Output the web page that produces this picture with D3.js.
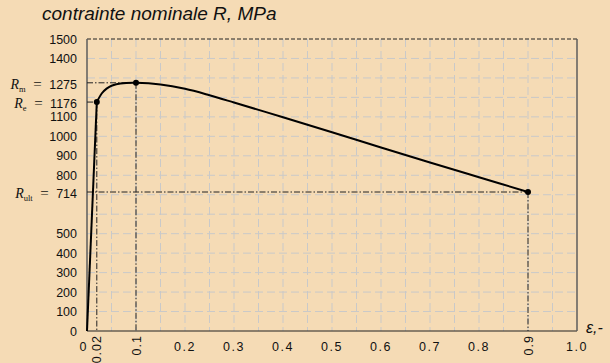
<!DOCTYPE html>
<html><head><meta charset="utf-8">
<script src="https://cdn.jsdelivr.net/npm/d3@7"></script>
<style>
html,body{margin:0;padding:0;background:#f5dbb5;}
svg{display:block;}
</style></head>
<body>
<svg id="chart" width="610" height="363"></svg>
<script>
// ---- data ----
const elasticStrain = [0, 0.02];
const elasticStress = [0, 1176];
const plasticStrain = [0.02, 0.03, 0.04, 0.05, 0.06, 0.08, 0.1, 0.15, 0.2, 0.25, 0.3, 0.4, 0.5, 0.6, 0.7, 0.8, 0.9];
const plasticStress = [1176, 1220, 1245, 1260, 1268, 1274, 1275, 1266, 1244, 1211, 1174, 1098, 1021, 943, 866, 790, 714];
const keyNames = ["e", "m", "ult"];
const keyStrain = [0.02, 0.1, 0.9];
const keyStress = [1176, 1275, 714];
const yTicks = [0, 100, 200, 300, 400, 500, 800, 900, 1000, 1100, 1400, 1500];
const xTicksFlat = [0.2, 0.3, 0.4, 0.5, 0.6, 0.7, 0.8, 1.0];
const xTicksRot = [0.02, 0.1, 0.9];
const title = "contrainte nominale R, MPa";
const xTitle = "ε,-";

// ---- layout ----
const svg = d3.select("#chart");
const W = 610, H = 363;
const L = 87, R = 577, T = 39, B = 331;
svg.append("rect").attr("width", W).attr("height", H).attr("fill", "#f5dbb5");

const x = d3.scaleLinear().domain([0, 1]).range([L, R]);
const y = d3.scaleLinear().domain([0, 1500]).range([B, T]);

// grid
const g = svg.append("g");
g.selectAll("line.vg").data(d3.range(1, 20).map(i => i * 0.05)).join("line").attr("class", "vg")
  .attr("x1", d => x(d)).attr("x2", d => x(d)).attr("y1", T).attr("y2", B)
  .attr("stroke", "#c9c9c9").attr("stroke-width", 1).attr("stroke-dasharray", "8,4");
g.selectAll("line.hg").data(d3.range(1, 15).map(i => i * 100)).join("line").attr("class", "hg")
  .attr("y1", d => y(d)).attr("y2", d => y(d)).attr("x1", L).attr("x2", R)
  .attr("stroke", "#c9c9c9").attr("stroke-width", 1).attr("stroke-dasharray", "8,4");

// frame
svg.append("line").attr("x1", L).attr("x2", R).attr("y1", T).attr("y2", T)
  .attr("stroke", "#222").attr("stroke-width", 1).attr("stroke-dasharray", "4,2");
svg.append("line").attr("x1", L).attr("x2", R).attr("y1", B).attr("y2", B)
  .attr("stroke", "#222").attr("stroke-width", 1.2);
svg.append("line").attr("x1", L).attr("x2", L).attr("y1", T).attr("y2", B)
  .attr("stroke", "#5c5c5c").attr("stroke-width", 1.5);
svg.append("line").attr("x1", R).attr("x2", R).attr("y1", T).attr("y2", B)
  .attr("stroke", "#5c5c5c").attr("stroke-width", 1.5);

// reference dash-dot lines
const keys = keyStrain.map((s, i) => ({s, v: keyStress[i], n: keyNames[i]}));
const ref = svg.append("g").attr("stroke", "#222").attr("stroke-width", 1).attr("stroke-dasharray", "6,2,1.5,2").attr("fill", "none");
ref.selectAll("line.h").data(keys).join("line").attr("class", "h")
  .attr("x1", L).attr("x2", d => x(d.s)).attr("y1", d => y(d.v)).attr("y2", d => y(d.v));
ref.selectAll("line.v").data(keys).join("line").attr("class", "v")
  .attr("x1", d => x(d.s)).attr("x2", d => x(d.s)).attr("y1", d => y(d.v)).attr("y2", B);

// curve
const elastic = elasticStrain.map((s, i) => [s, elasticStress[i]]);
const plastic = plasticStrain.map((s, i) => [s, plasticStress[i]]);
svg.append("path").attr("d", d3.line().x(d => x(d[0])).y(d => y(d[1]))(elastic))
  .attr("fill", "none").attr("stroke", "#000").attr("stroke-width", 2);
svg.append("path").attr("d", d3.line().curve(d3.curveCatmullRom.alpha(0.5)).x(d => x(d[0])).y(d => y(d[1]))(plastic))
  .attr("fill", "none").attr("stroke", "#000").attr("stroke-width", 2);
svg.selectAll("circle.pt").data(keys).join("circle").attr("class", "pt")
  .attr("cx", d => x(d.s)).attr("cy", d => y(d.v)).attr("r", 3).attr("fill", "#000");

// y tick labels
const fnt = "'Liberation Sans', Arial, Helvetica, sans-serif";
const serif = "'Liberation Serif', 'Times New Roman', serif";
svg.selectAll("text.yl").data(yTicks).join("text").attr("class", "yl")
  .attr("x", 77).attr("y", d => y(d)).attr("dy", "0.36em")
  .attr("text-anchor", "end").attr("font-family", fnt).attr("font-size", 12.5).attr("fill", "#111")
  .text(d => d);
keys.forEach(k => {
  const t = svg.append("text").attr("x", 77).attr("y", y(k.v)).attr("dy", "0.36em")
    .attr("text-anchor", "end").attr("fill", "#111");
  t.append("tspan").attr("font-family", serif)
    .attr("font-style", "italic").attr("font-size", 14).text("R");
  t.append("tspan").attr("font-family", serif)
    .attr("font-size", 8.5).attr("dy", 3).text(k.n);
  t.append("tspan").attr("font-family", serif)
    .attr("font-size", 15).attr("dy", -3).attr("xml:space", "preserve").text("  =  ");
  t.append("tspan").attr("font-family", fnt).attr("font-size", 12.5).text(k.v);
});

// x tick labels
svg.append("text").attr("x", 83).attr("y", 351).attr("text-anchor", "middle")
  .attr("font-family", fnt).attr("font-size", 12.5).attr("fill", "#111").text("0");
svg.selectAll("text.xl").data(xTicksFlat).join("text").attr("class", "xl")
  .attr("x", d => x(d)).attr("y", 351).attr("text-anchor", "middle")
  .attr("font-family", fnt).attr("font-size", 12.5).attr("letter-spacing", 1.5).attr("fill", "#111")
  .text(d => d.toFixed(1));
svg.selectAll("text.xr").data(xTicksRot).join("text").attr("class", "xr")
  .attr("transform", d => `translate(${x(d) + 4.5},335) rotate(-90)`)
  .attr("text-anchor", "end")
  .attr("font-family", fnt).attr("font-size", 12.5).attr("letter-spacing", 1).attr("fill", "#111")
  .text(d => d);

// titles
svg.append("text").attr("x", 42).attr("y", 20).attr("font-family", fnt).attr("font-style", "italic")
  .attr("font-size", 19).attr("fill", "#111").text(title);
svg.append("text").attr("x", 586).attr("y", 333).attr("font-family", fnt).attr("font-style", "italic")
  .attr("font-size", 16).attr("fill", "#111").text(xTitle);
</script>
</body></html>
